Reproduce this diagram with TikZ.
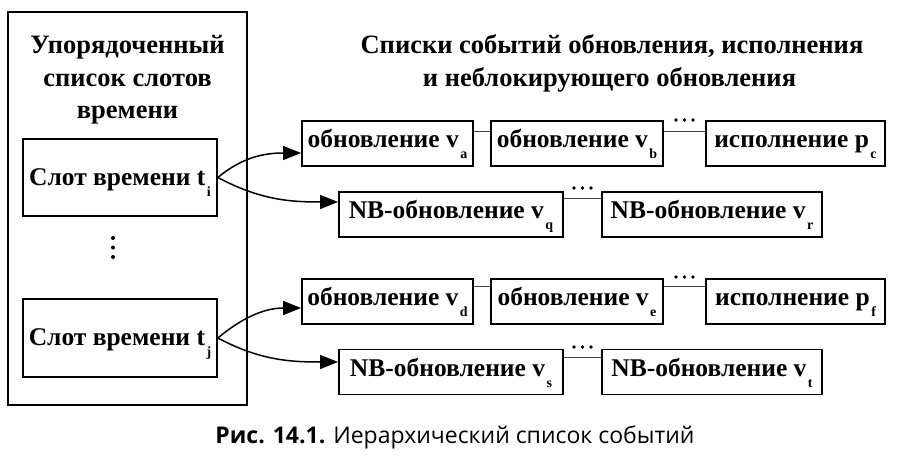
\documentclass[tikz,border=0pt]{standalone}
\usepackage{fontspec}
\setmainfont{Liberation Serif}
\newfontfamily\capfont{Open Sans}
\usetikzlibrary{arrows.meta}
\newcommand\subl[1]{\kern1.5pt\raisebox{-11pt}[0pt][0pt]{\fontsize{14}{14}\selectfont #1}}
\begin{document}
\begin{tikzpicture}[x=1pt,y=-1pt,
  box/.style={draw, line width=1.8pt, inner sep=0pt, minimum height=45pt,
    text height=16pt, text depth=8pt, font=\fontsize{25.5}{30}\selectfont\bfseries},
  slotbox/.style={box, minimum height=77pt, text height=20pt, text depth=5pt},
  link/.style={line width=1pt, draw=black!75},
  arr/.style={line width=1.5pt, -{Triangle[length=18pt,width=14pt]}},
  title/.style={anchor=base, inner sep=0pt, font=\fontsize{26.5}{30}\selectfont\bfseries},
  dotc/.style={fill=black}
  ]
\useasboundingbox (0,0) rectangle (900,458);
% outer container
\node[draw, line width=1.8pt, minimum width=239pt, minimum height=393pt, inner sep=0pt] (outer) at (127.5,208.5) {};
\node[title] (lt1) at (127.5,53) {Упорядоченный};
\node[title] (lt2) at (127.5,86) {список слотов};
\node[title] (lt3) at (127.5,118) {времени};
\node[slotbox, minimum width=194pt] (ti) at (120,177.5) {Слот времени t\subl{i}};
\node[slotbox, minimum width=194pt, minimum height=78pt] (tj) at (120,338) {Слот времени t\subl{j}};
\fill[dotc] (113,238) circle (2) (113,247.5) circle (2) (113,257) circle (2);
% right title
\node[title] (rt1) at (612,53) {Списки событий обновления, исполнения};
\node[title] (rt2) at (609.5,86) {и неблокирующего обновления};
% row 1
\node[box, minimum width=171pt] (a) at (387.5,143.5) {обновление v\subl{a}};
\node[box, minimum width=172pt] (b) at (577,143.5) {обновление v\subl{b}};
\node[box, minimum width=179pt] (c) at (795.5,143.5) {исполнение p\subl{c}};
% row 2
\node[box, minimum width=224pt] (q) at (451,214.5) {NB-обновление v\subl{q}};
\node[box, minimum width=220pt] (r) at (712,214.5) {NB-обновление v\subl{r}};
% row 3
\node[box, minimum width=171pt] (d) at (387.5,301.5) {обновление v\subl{d}};
\node[box, minimum width=172pt] (e) at (577,301.5) {обновление v\subl{e}};
\node[box, minimum width=179pt] (f) at (795.5,301.5) {исполнение p\subl{f}};
% row 4
\node[box, minimum width=224pt] (s) at (451,372) {NB-обновление v\subl{s}};
\node[box, minimum width=220pt] (t) at (712,372) {NB-обновление v\subl{t}};
% links
\draw[link] ([yshift=-11pt]a.north east) -- ([yshift=-11pt]b.north west);
\draw[link] ([yshift=-11pt]b.north east) -- ([yshift=-11pt]c.north west);
\draw[link] ([yshift=-7pt]q.north east) -- ([yshift=-7pt]r.north west);
\draw[link] ([yshift=-8pt]d.north east) -- ([yshift=-8pt]e.north west);
\draw[link] ([yshift=-8pt]e.north east) -- ([yshift=-8pt]f.north west);
\draw[link] ([yshift=-9pt]s.north east) -- ([yshift=-9pt]t.north west);
% ellipsis dots
\fill[dotc] (676,120) circle (1.8) (684.5,120) circle (1.8) (693,120) circle (1.8);
\fill[dotc] (574,188) circle (1.8) (582.5,188) circle (1.8) (591,188) circle (1.8);
\fill[dotc] (676,277) circle (1.8) (684.5,277) circle (1.8) (693,277) circle (1.8);
\fill[dotc] (574,347) circle (1.8) (582.5,347) circle (1.8) (591,347) circle (1.8);
% arrows
\draw[arr] (ti.east) to[out=40,in=180] ([yshift=-9.5pt]a.west);
\draw[arr] (ti.east) to[out=-28,in=180] ([yshift=12.5pt]q.west);
\draw[arr] (tj.east) to[out=40,in=180] ([yshift=-6.5pt]d.west);
\draw[arr] (tj.east) to[out=-28,in=180] ([yshift=10pt]s.west);
% caption
\node[anchor=base, inner sep=0pt, font=\capfont\fontsize{23}{28}\selectfont] (cap) at (455,443) {\textbf{Рис. 14.1.} Иерархический список событий};
\end{tikzpicture}
\end{document}
